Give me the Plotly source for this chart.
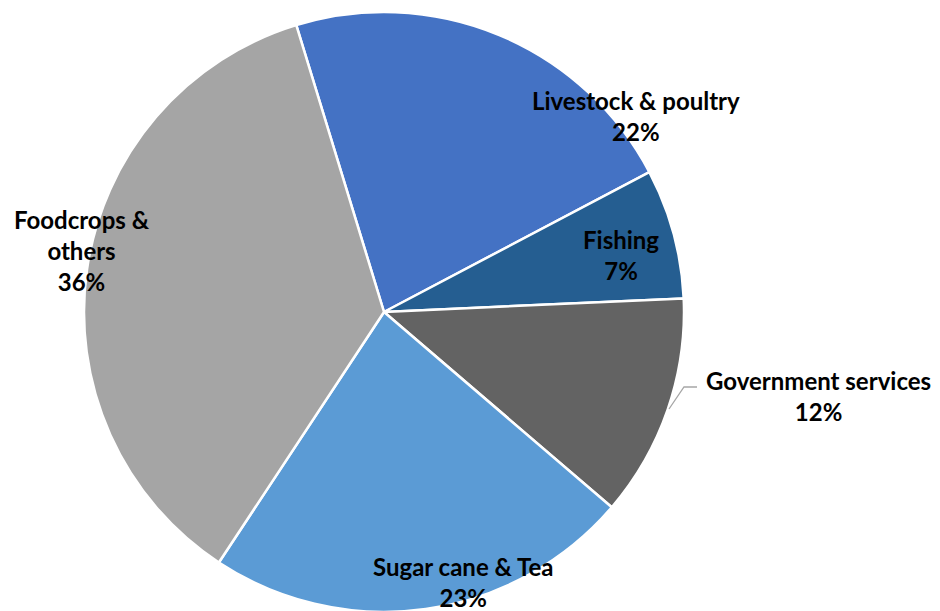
import plotly.graph_objects as go

labels = ["Livestock & poultry", "Fishing", "Government services", "Sugar cane & Tea", "Foodcrops & others"]
values = [22, 7, 12, 23, 36]
colors = ["#4472C4", "#255E91", "#636363", "#5B9BD5", "#A5A5A5"]
label_text = ["Livestock & poultry<br>22%", "Fishing<br>7%", "Government services<br>12%",
              "Sugar cane & Tea<br>23%", "Foodcrops &<br>others<br>36%"]

W, H = 940, 611
OFF = 8  # page body margin offset
# label centers in screen pixels (positions, not data)
label_pos = [(636, 116), (621, 255), (818, 396), (463, 582), (82, 250)]

def px(x, y):
    return (x - OFF) / W, 1 - (y - OFF) / H

cx, cy, r = 384, 312, 300
x0, y1 = px(cx - r, cy - r)
x1, y0 = px(cx + r, cy + r)

fig = go.Figure(go.Pie(
    labels=labels, values=values, sort=False, direction="clockwise", rotation=-17,
    marker=dict(colors=colors, line=dict(color="white", width=2.5)),
    textinfo="none", showlegend=False,
    domain=dict(x=[x0, x1], y=[y0, y1]),
))

font = dict(family="Lato", size=24, color="black", weight="bold")
for t, (x, y) in zip(label_text, label_pos):
    ax, ay = px(x, y)
    fig.add_annotation(text=t, x=ax, y=ay, xref="paper", yref="paper", showarrow=False,
                       xanchor="center", yanchor="middle", font=font, align="center")

p1, p2, p3 = px(669, 409), px(684, 387), px(697, 387)
fig.add_shape(type="path", xref="paper", yref="paper",
              path=f"M {p1[0]} {p1[1]} L {p2[0]} {p2[1]} L {p3[0]} {p3[1]}",
              line=dict(color="#A6A6A6", width=1.3))

fig.update_layout(width=W, height=H, margin=dict(l=0, r=0, t=0, b=0),
                  paper_bgcolor="white", plot_bgcolor="white")
fig.write_html("out.html")
